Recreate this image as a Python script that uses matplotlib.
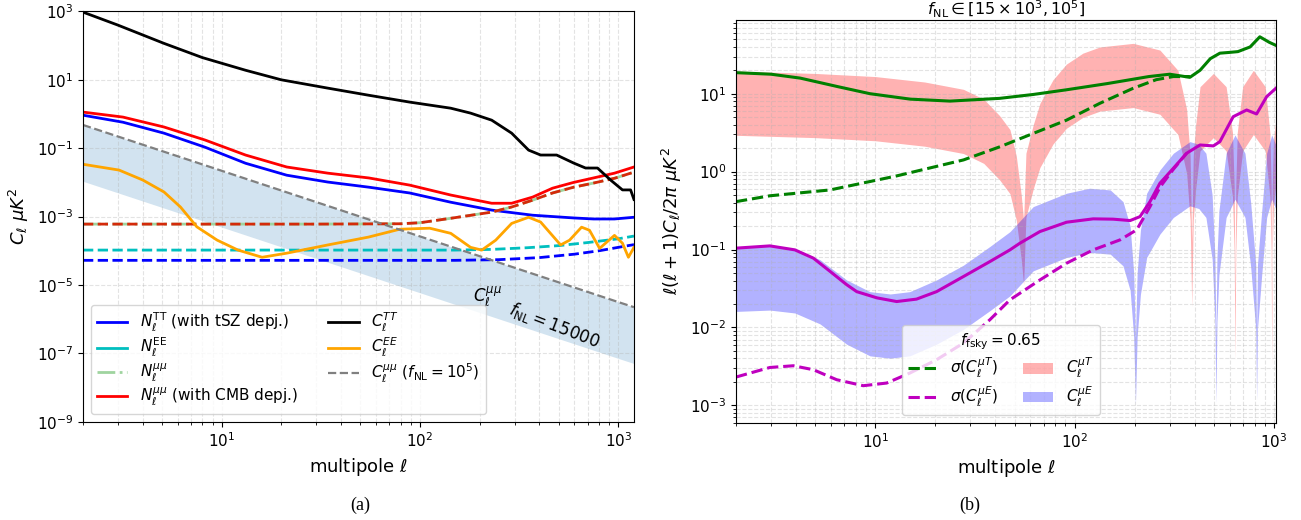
import numpy as np
import matplotlib
matplotlib.use("Agg")
import matplotlib.pyplot as plt
from matplotlib.lines import Line2D
from matplotlib.patches import Patch

# ---- left panel: spectra and noise (log10 values) ----
ell_tt = [2, 3, 5.1, 8, 13.2, 20, 34.3, 55, 88.8, 143, 180, 230, 290, 353, 406, 489, 596, 684, 786, 914, 1050, 1154, 1200]
log_cl_tt = [2.98, 2.6, 2.07, 1.65, 1.28, 1.0, 0.757, 0.55, 0.348, 0.17, 0.026, -0.18, -0.56, -1.056, -1.20, -1.20,
             -1.435, -1.58, -1.58, -1.93, -2.22, -2.22, -2.5]

ell_nmu_cmb = [2, 3.18, 5.12, 8.24, 13.2, 21.3, 34.3, 55.2, 88.8, 143, 230, 290, 370, 466, 596, 750, 957, 1200]
log_nmu_cmb = [0.056, -0.09, -0.38, -0.76, -1.2, -1.55, -1.73, -1.87, -2.08, -2.37, -2.61, -2.61, -2.43, -2.17, -2.0, -1.87, -1.73, -1.55]

ell_ntt = [2, 3.18, 5.12, 8.24, 13.2, 21.3, 34.3, 55.2, 88.8, 143, 230, 370, 596, 750, 957, 1200]
log_ntt = [-0.035, -0.24, -0.56, -0.97, -1.44, -1.79, -1.99, -2.14, -2.31, -2.58, -2.81, -2.96, -3.04, -3.07, -3.07, -3.02]

ell_nmu = [2, 30, 80, 100, 143, 230, 290, 370, 466, 596, 750, 957, 1200]
log_nmu = [-3.22, -3.22, -3.21, -3.18, -3.05, -2.87, -2.72, -2.52, -2.31, -2.14, -2.02, -1.88, -1.70]

ell_nee = [2, 150, 230, 350, 500, 700, 1000, 1200]
log_nee = [-3.98, -3.98, -3.96, -3.91, -3.85, -3.76, -3.65, -3.57]

ell_ntt2 = [2, 150, 250, 400, 600, 800, 1000, 1200]
log_ntt2 = [-4.28, -4.28, -4.26, -4.2, -4.1, -4.0, -3.9, -3.82]

ell_cmumu = [2, 10, 100, 1000, 1200]
log_cmumu = [-0.32, -1.66, -3.58, -5.5, -5.65]

ell_ee = [2, 3.04, 4.0, 5.12, 6.2, 7.5, 9.5, 12.1, 16, 21.3, 34.3, 55, 79, 112, 143, 180, 205, 241, 290, 353,
          406, 512, 568, 653, 716, 805, 957, 1050, 1125, 1200]
log_cl_ee = [-1.47, -1.64, -1.93, -2.28, -2.72, -3.30, -3.69, -3.98, -4.19, -4.07, -3.83, -3.60, -3.37, -3.34, -3.49,
             -3.90, -3.98, -3.69, -3.2, -3.02, -3.16, -3.83, -3.69, -3.31, -3.40, -3.93, -3.55, -3.78, -4.19, -3.90]

fnl_lo, fnl_hi = 15e3, 1e5

# ---- right panel: cross spectra (fNL = 1e5) and their errors ----
ell_sig_t = [2, 3, 4.2, 6.5, 9.4, 15, 23.7, 42, 62, 91, 146, 236, 300, 379, 426, 480, 536, 600, 660, 760, 850, 947, 1024]
log_sig_t = [1.27, 1.25, 1.2, 1.09, 1.0, 0.93, 0.905, 0.94, 0.99, 1.05, 1.13, 1.22, 1.25, 1.21, 1.30, 1.45, 1.52, 1.53,
             1.54, 1.60, 1.73, 1.66, 1.62]

ell_sig_t2 = [2, 2.96, 5.93, 12.8, 27.7, 42.3, 62, 91, 134, 197, 257, 313, 379]
log_sig_t2 = [-0.385, -0.31, -0.235, -0.055, 0.15, 0.32, 0.49, 0.66, 0.877, 1.07, 1.18, 1.22, 1.22]

ell_sig_e = [2, 2.96, 3.95, 4.89, 5.93, 7.18, 8.07, 10.2, 12.8, 16.1, 20.3, 27.7, 37.6, 47.4, 53.2, 67, 91.2, 124,
             156, 190, 213, 239, 268, 313, 365, 426, 497, 536, 625, 730, 819, 920, 1024]
log_sig_e = [-0.982, -0.953, -1.004, -1.11, -1.28, -1.45, -1.54, -1.62, -1.667, -1.636, -1.54, -1.346, -1.154, -1.004,
             -0.918, -0.769, -0.649, -0.606, -0.61, -0.628, -0.577, -0.385, -0.149, 0.043, 0.236, 0.342, 0.33, 0.385,
             0.705, 0.791, 0.74, 0.962, 1.07]

ell_sig_e2 = [2, 2.96, 3.88, 4.89, 6.4, 8.7, 11.4, 14.9, 20.3, 27.7, 37.6, 47.4, 53.2, 67, 91.2, 124, 169, 205, 239,
              268, 313, 365]
log_sig_e2 = [-2.636, -2.513, -2.491, -2.542, -2.67, -2.747, -2.713, -2.585, -2.414, -2.2, -1.9, -1.645, -1.56, -1.39,
              -1.175, -1.004, -0.876, -0.747, -0.449, -0.2, 0.03, 0.236]

ell_cmut = [2, 5, 10, 17.7, 27.7, 35, 42, 47.4, 51, 54, 55.5, 57, 62, 67, 78, 91, 110, 134, 197, 268, 330, 365, 380,
            387, 394, 405, 426, 497, 576, 620, 632, 638, 644, 655, 697, 789, 905, 955, 969, 975, 981, 995, 1024]
log_cmut = [1.29, 1.26, 1.22, 1.15, 1.056, 0.93, 0.72, 0.54, 0.2, -0.3, -0.63, 0.236, 0.6, 0.877, 1.18, 1.38, 1.52,
            1.6, 1.646, 1.56, 1.30, 0.8, 0.2, -0.91, 0.2, 0.6, 1.09, 1.26, 1.09, 0.5, -0.2, -1.59, -0.2, 0.5, 1.09,
            1.30, 1.09, 0.5, -0.2, -1.68, -0.2, 0.4, 0.66]

ell_cmue = [2, 2.96, 3.95, 5.28, 7.18, 9.4, 11.9, 14.9, 20.3, 27.7, 37.6, 47.4, 62, 91.2, 119, 151, 175, 190, 198, 202,
            206, 214, 230, 268, 313, 379, 420, 456, 490, 506, 512, 518, 530, 576, 638, 716, 765, 811, 819, 827, 869,
            920, 975, 1024]
log_cmue = [-0.97, -0.953, -0.99, -1.13, -1.39, -1.54, -1.57, -1.54, -1.39, -1.2, -0.96, -0.77, -0.449, -0.277, -0.213,
            -0.235, -0.385, -0.7, -1.3, -2.16, -1.3, -0.75, -0.277, 0.022, 0.236, 0.385, 0.35, 0.236, -0.3, -1.1, -2.15,
            -1.1, -0.5, 0.236, 0.47, 0.236, -0.4, -1.2, -2.11, -1.2, -0.5, 0.236, 0.47, 0.34]

def p(v):
    return 10 ** np.asarray(v)

plt.rcParams["mathtext.fontset"] = "dejavusans"
fig = plt.figure(figsize=(13.01, 5.2), dpi=100)

# ================= (a) =================
ax = fig.add_axes([0.0638, 0.189, 0.4235, 0.789])
ax.plot(ell_ntt, p(log_ntt), color="b", lw=2)
ax.plot(ell_ntt2, p(log_ntt2), color="b", lw=2, ls="--")
ax.plot(ell_nee, p(log_nee), color="c", lw=2, ls="--")
ax.plot(ell_nmu, p(log_nmu), color="#9fd49f", lw=2, ls="-.")
ax.plot(ell_nmu, p(log_nmu), color="#d42a0a", lw=2, ls="--")
ax.plot(ell_nmu_cmb, p(log_nmu_cmb), color="r", lw=2)
ax.plot(ell_tt, p(log_cl_tt), color="k", lw=2)
ax.plot(ell_ee, p(log_cl_ee), color="orange", lw=2)
ax.plot(ell_cmumu, p(log_cmumu), color="gray", lw=1.6, ls="--")
ax.fill_between(ell_cmumu, p(log_cmumu) * (fnl_lo / fnl_hi) ** 2, p(log_cmumu), color="C0", alpha=0.2, lw=0)

ax.text(219, 4.5e-6, r"$C_\ell^{\mu\mu}$", fontsize=12, ha="center", va="center")
ax.text(478, 6.8e-7, r"$f_{\rm NL} = 15000$", fontsize=12, ha="center", va="center", rotation=-21)

ax.set_xscale("log")
ax.set_yscale("log")
ax.set_xlim(2, 1200)
ax.set_ylim(1e-9, 1e3)
ax.set_yticks([1e3, 1e1, 1e-1, 1e-3, 1e-5, 1e-7, 1e-9])
ax.yaxis.set_minor_locator(matplotlib.ticker.NullLocator())
ax.grid(True, which="major", ls="--", alpha=0.35)
ax.xaxis.grid(True, which="minor", ls="--", alpha=0.35)
ax.tick_params(labelsize=11)
ax.set_xlabel(r"multipole $\ell$", fontsize=13)
ax.set_ylabel(r"$C_\ell\ \mu K^2$", fontsize=13)

handles = [
    Line2D([], [], color="b", lw=2),
    Line2D([], [], color="c", lw=2),
    Line2D([], [], color="#9fd49f", lw=2, ls="-."),
    Line2D([], [], color="r", lw=2),
    Line2D([], [], color="k", lw=2),
    Line2D([], [], color="orange", lw=2),
    Line2D([], [], color="gray", lw=1.6, ls="--"),
]
labels = [
    r"$N_\ell^{\rm TT}$ (with tSZ depj.)",
    r"$N_\ell^{\rm EE}$",
    r"$N_\ell^{\mu\mu}$",
    r"$N_\ell^{\mu\mu}$ (with CMB depj.)",
    r"$C_\ell^{TT}$",
    r"$C_\ell^{EE}$",
    r"$C_\ell^{\mu\mu}$ ($f_{\rm NL} = 10^5$)",
]
ax.legend(handles, labels, ncol=2, loc="lower left", fontsize=11, labelspacing=0.15)

# ================= (b) =================
bx = fig.add_axes([0.5657, 0.1871, 0.4151, 0.775])
bx.fill_between(ell_cmut, p(log_cmut) * fnl_lo / fnl_hi, p(log_cmut), color="r", alpha=0.3, lw=0)
bx.fill_between(ell_cmue, p(log_cmue) * fnl_lo / fnl_hi, p(log_cmue), color="b", alpha=0.3, lw=0)
bx.plot(ell_sig_t, p(log_sig_t), color="g", lw=2.2)
bx.plot(ell_sig_t2, p(log_sig_t2), color="g", lw=2.2, ls="--")
bx.plot(ell_sig_e, p(log_sig_e), color="m", lw=2.2)
bx.plot(ell_sig_e2, p(log_sig_e2), color="m", lw=2.2, ls="--")

bx.set_xscale("log")
bx.set_yscale("log")
bx.set_xlim(2, 1025)
bx.set_ylim(6.0e-4, 89)
bx.grid(True, which="both", ls="--", alpha=0.35)
bx.tick_params(labelsize=11)
bx.set_xlabel(r"multipole $\ell$", fontsize=13)
bx.set_ylabel(r"$\ell(\ell+1)C_\ell/2\pi\ \mu K^2$", fontsize=13)
bx.set_title(r"$f_{\rm NL} \in [15 \times 10^3, 10^5]$", fontsize=11.5, pad=1)

handles_b = [
    Line2D([], [], color="g", lw=2.2, ls="--"),
    Line2D([], [], color="m", lw=2.2, ls="--"),
    Patch(color="r", alpha=0.3, lw=0),
    Patch(color="b", alpha=0.3, lw=0),
]
labels_b = [r"$\sigma(C_\ell^{\mu T})$", r"$\sigma(C_\ell^{\mu E})$", r"$C_\ell^{\mu T}$", r"$C_\ell^{\mu E}$"]
bx.legend(handles_b, labels_b, ncol=2, loc="lower center", bbox_to_anchor=(0.49, 0.0), fontsize=11,
          labelspacing=0.3, columnspacing=1.6, title=r"$f_{\rm fsky} = 0.65$", title_fontsize=11)

fig.text(360 / 1301, 1 - 505 / 520, "(a)", ha="center", va="center", family="Liberation Serif", fontsize=13)
fig.text(970 / 1301, 1 - 505 / 520, "(b)", ha="center", va="center", family="Liberation Serif", fontsize=13)

fig.savefig("out.png", dpi=100)
